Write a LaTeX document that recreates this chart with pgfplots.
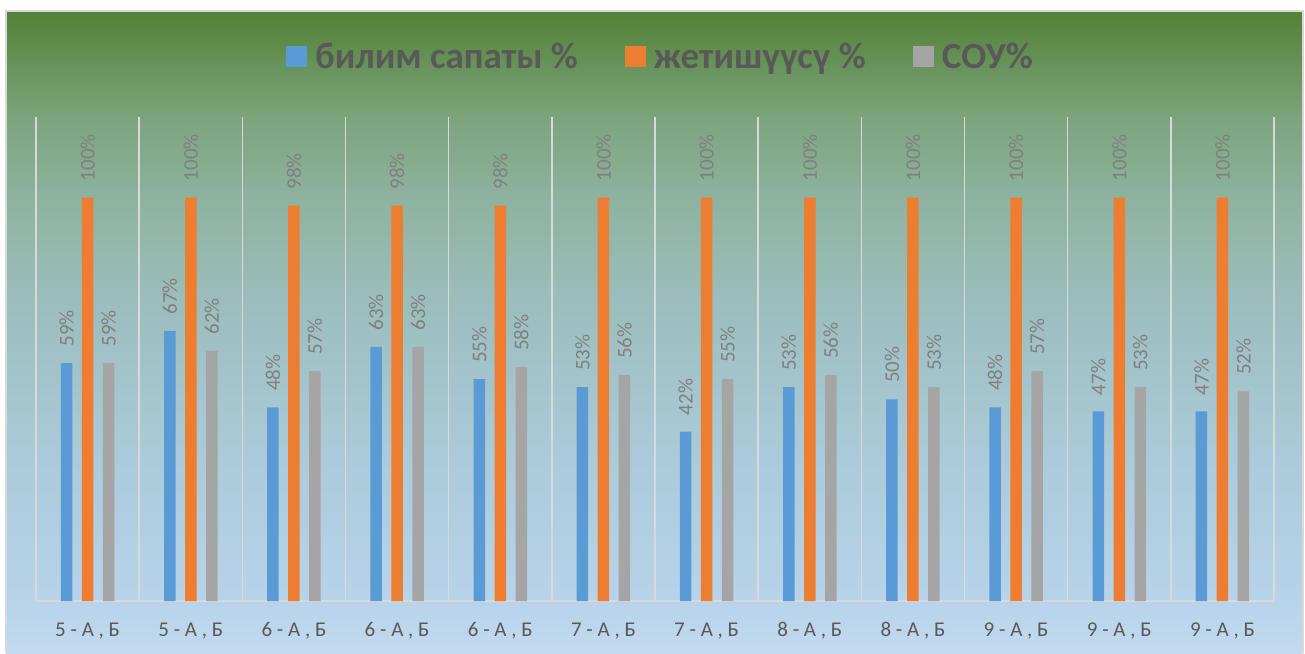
\documentclass[border=0pt]{standalone}
\usepackage{fontspec}
\setmainfont{Carlito}
\usepackage{pgfplots}
\pgfplotsset{compat=1.18}
\definecolor{cBlue}{HTML}{5B9BD5}
\definecolor{cOrange}{HTML}{ED7D31}
\definecolor{cGray}{HTML}{A5A5A5}
\definecolor{cGrid}{HTML}{D9D9D9}
\definecolor{cLabel}{HTML}{808080}
\definecolor{cText}{HTML}{595959}
\definecolor{bg0}{HTML}{C2DAEF}
\definecolor{bg1}{HTML}{B8D3EA}
\definecolor{bg2}{HTML}{AACAD9}
\definecolor{bg3}{HTML}{9CBDBC}
\definecolor{bg4}{HTML}{8FB3A0}
\definecolor{bg5}{HTML}{7CA47D}
\definecolor{bg6}{HTML}{538135}
\pgfdeclareverticalshading{chartbg}{100bp}{color(0bp)=(bg0); color(25bp)=(bg0); color(29bp)=(bg1); color(40.8bp)=(bg2); color(52.5bp)=(bg3); color(60.2bp)=(bg4); color(66.7bp)=(bg5); color(75bp)=(bg6); color(100bp)=(bg6)}
\begin{document}
\begin{tikzpicture}
\useasboundingbox (0,0) rectangle (652.5pt,326.5pt);
\fill[white] (0,0) rectangle (652.5pt,326.5pt);
\shade[shading=chartbg] (3pt,0pt) rectangle (651.5pt,321pt);
\draw[cGrid, line width=0.6pt] (3pt,0pt) -- (3pt,321pt) -- (651.5pt,321pt) -- (651.5pt,0pt);
\begin{axis}[
  at={(18pt,26.0pt)}, anchor=south west,
  scale only axis, width=619pt, height=242pt,
  xmin=-0.5, xmax=11.5, ymin=0, ymax=120,
  enlarge x limits=false,
  axis x line*=bottom, axis y line=none,
  x axis line style={draw=cGrid, line width=0.75pt},
  xtick={0,...,11},
  xticklabels={{5 - А , Б},{5 - А , Б},{6 - А , Б},{6 - А , Б},{6 - А , Б},{7 - А , Б},{7 - А , Б},{8 - А , Б},{8 - А , Б},{9 - А , Б},{9 - А , Б},{9 - А , Б}},
  major tick length=0pt, minor tick length=0pt,
  minor xtick={-0.5,0.5,...,11.5},
  xminorgrids, minor x grid style={draw=cGrid, line width=0.75pt},
  x tick label style={anchor=base, yshift=-17.5pt, font=\fontsize{10.5}{12}\selectfont, text=cText},
  ybar=4.75pt, bar width=5.75pt,
  nodes near coords={\pgfmathprintnumber[fixed,precision=0,assume math mode=true]{\pgfplotspointmeta}\%},
  every node near coord/.append style={rotate=90, anchor=west, inner sep=0pt, xshift=8pt, font=\fontsize{10.5}{12}\selectfont, text=cLabel},
  legend columns=3,
  legend style={draw=none, fill=none, at={(0.5,1.124)}, anchor=center, xshift=3.25pt,
    font=\bfseries\fontsize{18.5}{22}\selectfont, text=cText,
    /tikz/every odd column/.append style={column sep=2pt},
    /tikz/every even column/.append style={column sep=21.5pt}},
  legend image code/.code={\fill[#1] (0pt,-5.25pt) rectangle (10.5pt,5.25pt);},
]
\addplot[fill=cBlue, draw=none] coordinates {(0,59) (1,67) (2,48) (3,63) (4,55) (5,53) (6,42) (7,53) (8,50) (9,48) (10,47) (11,47)};
\addplot[fill=cOrange, draw=none] coordinates {(0,100) (1,100) (2,98) (3,98) (4,98) (5,100) (6,100) (7,100) (8,100) (9,100) (10,100) (11,100)};
\addplot[fill=cGray, draw=none] coordinates {(0,59) (1,62) (2,57) (3,63) (4,58) (5,56) (6,55) (7,56) (8,53) (9,57) (10,53) (11,52)};
\legend{билим сапаты \%, жетишүүсү \%, СОУ\%}
\end{axis}
\end{tikzpicture}
\end{document}
